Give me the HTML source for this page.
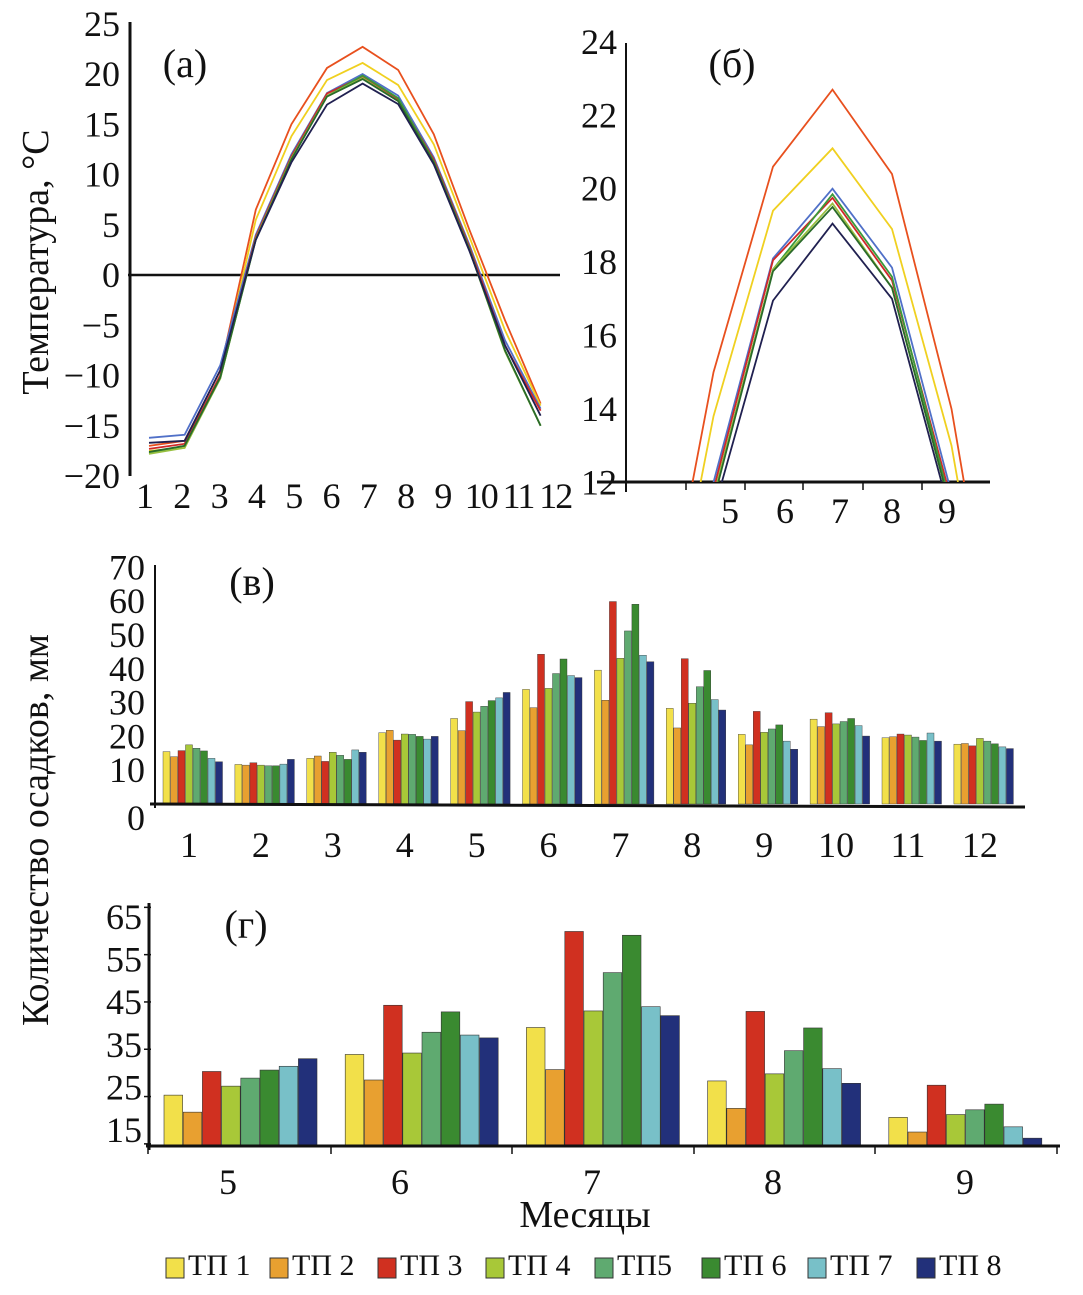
<!DOCTYPE html>
<html><head><meta charset="utf-8"><style>
html,body{margin:0;padding:0;background:#fff;overflow:hidden;width:1083px;height:1295px}
svg{display:block;font-family:"Liberation Serif",serif}
</style></head><body>
<svg id="c" width="1083" height="1295" viewBox="0 0 1083 1295"></svg>
<script>
const months = [1,2,3,4,5,6,7,8,9,10,11,12];
const lineColors = ["#e8501e","#f0d020","#5070c8","#d02828","#3a9a3a","#98c040","#2a6a2a","#202050"];
const t1 = [-17.0,-16.5,-9.5,6.5,15.0,20.6,22.7,20.4,14.0,4.5,-4.5,-12.8];
const t2 = [-17.5,-17.2,-10.0,5.5,13.8,19.4,21.1,18.9,13.0,3.8,-5.5,-13.0];
const t3 = [-16.2,-15.9,-9.0,4.0,12.0,18.1,20.0,17.85,11.7,3.0,-6.5,-13.3];
const t4 = [-17.3,-16.8,-10.0,3.8,11.8,18.05,19.75,17.5,11.5,2.8,-7.0,-13.5];
const t5 = [-17.7,-17.0,-10.3,3.6,11.6,17.8,19.85,17.6,11.3,2.6,-7.5,-15.0];
const t6 = [-17.8,-17.2,-10.3,3.6,11.6,17.8,19.6,17.3,11.2,2.5,-7.6,-15.0];
const t7 = [-17.6,-17.0,-10.2,3.5,11.5,17.75,19.5,17.3,11.2,2.5,-7.5,-15.0];
const t8 = [-16.7,-16.5,-9.5,3.5,11.2,16.95,19.05,17.0,11.0,2.4,-7.0,-14.0];
const tempSeries = [t1,t2,t3,t4,t5,t6,t7,t8];
const tempTicksA = [25,20,15,10,5,0,-5,-10,-15,-20];
const tempTicksB = [24,22,20,18,16,14,12];
const monthsB = [5,6,7,8,9];

const barColors = ["#f2e04a","#e8a030","#d03020","#a8c838","#5faa70","#3a8a30","#78c0c8","#22307a"];
const seriesNames = ["ТП 1","ТП 2","ТП 3","ТП 4","ТП5","ТП 6","ТП 7","ТП 8"];
const p1 = [15.5,11.7,13.5,21.1,25.3,33.9,39.6,28.3,20.6,25.1,19.6,17.7];
const p2 = [14.0,11.5,14.2,21.8,21.7,28.5,30.7,22.5,17.5,22.9,19.9,17.9];
const p3 = [15.8,12.2,12.6,18.9,30.3,44.3,59.9,43.0,27.4,27.0,20.7,17.2];
const p4 = [17.5,11.5,15.3,20.7,27.2,34.2,43.1,29.8,21.2,23.7,20.4,19.4];
const p5 = [16.5,11.3,14.4,20.6,28.9,38.6,51.2,34.7,22.2,24.4,19.8,18.6];
const p6 = [15.7,11.3,13.2,20.0,30.6,42.9,59.1,39.5,23.4,25.3,18.8,17.8];
const p7 = [13.5,11.8,16.0,19.2,31.4,38.0,44.0,30.9,18.6,23.2,21.0,16.9];
const p8 = [12.5,13.2,15.3,20.0,33.0,37.4,42.1,27.8,16.2,20.1,18.6,16.4];
const precSeries = [p1,p2,p3,p4,p5,p6,p7,p8];
const precTicksV = [70,60,50,40,30,20,10,0];
const precTicksG = [65,55,45,35,25,15];
const monthsG = [5,6,7,8,9];

const NS="http://www.w3.org/2000/svg";
const svg=document.getElementById('c');
function mk(tag,attrs,parent){const e=document.createElementNS(NS,tag);for(const k in attrs)e.setAttribute(k,attrs[k]);(parent||svg).appendChild(e);return e;}
function txt(s,x,y,size,anchor,parent){const e=mk('text',{x:x,y:y,'font-size':size,'text-anchor':anchor||'middle',fill:'#111'},parent);e.textContent=s;return e;}

// ---------- Panel (a)
const gA=mk('g',{});


const yA=v=>275-10.05*v, xA=m=>149+(m-1)*35.6;
mk('line',{x1:130,y1:22,x2:130,y2:476,stroke:'#111','stroke-width':3},gA);
mk('line',{x1:128,y1:yA(0),x2:560,y2:yA(0),stroke:'#111','stroke-width':2.5},gA);
tempTicksA.forEach(v=>{const t=txt(v<0?'\u2212'+(-v):String(v),120,yA(v)+12,36,'end',gA);
});
months.forEach(m=>{const t=txt(String(m),145+(m-1)*37.3,508,36,'middle',gA);
if(m>=10)t.setAttribute('letter-spacing','-2');
});
tempSeries.forEach((s,i)=>{const pl=mk('polyline',{points:s.map((v,j)=>xA(months[j])+','+yA(v)).join(' '),fill:'none',stroke:lineColors[i],'stroke-width':1.8},gA);
});
const la=txt('(a)',185,77,40,'middle',gA);

const yt=txt('Температура, °C',0,0,38,'middle',gA);
yt.setAttribute('transform','translate(48,262) rotate(-90)');


// ---------- Panel (б)
const gB=mk('g',{});


mk('clipPath',{id:'clipB'},gB);
mk('rect',{x:600,y:30,width:400,height:452},document.getElementById('clipB'));
const yB=v=>482.3-36.7*(v-12), xB=m=>773+(m-6)*59.5;
mk('line',{x1:626,y1:43,x2:626,y2:492,stroke:'#111','stroke-width':2},gB);
mk('line',{x1:597,y1:482,x2:990,y2:482,stroke:'#111','stroke-width':3},gB);
[686,745,803,863,922].forEach(x=>mk('line',{x1:x,y1:482,x2:x,y2:490,stroke:'#111','stroke-width':1.5},gB));
tempTicksB.forEach(v=>{const t=txt(String(v),617,yB(v)+12,36,'end',gB);
});
monthsB.forEach((m,i)=>{const t=txt(String(m),[730,785,840,892,947][i],523,36,'middle',gB);
});
const gBl=mk('g',{'clip-path':'url(#clipB)'},gB);
tempSeries.forEach((s,i)=>{const pl=mk('polyline',{points:s.map((v,j)=>xB(months[j])+','+yB(v)).join(' '),fill:'none',stroke:lineColors[i],'stroke-width':1.8},gBl);
});
const lb=txt('(б)',732,77,40,'middle',gB);


// ---------- Panel (в)
const gV=mk('g',{});


const yV=v=>804-3.38*v;
mk('line',{x1:155,y1:565,x2:155,y2:808,stroke:'#111','stroke-width':2},gV);
precTicksV.forEach(v=>{const t=txt(String(v),145,(v===0?818:yV(v))+12,36,'end',gV);
});
months.forEach(m=>{const gx=163+(m-1)*71.9;
precSeries.forEach((s,i)=>{const v=s[m-1];const r=mk('rect',{x:gx+i*7.5,y:yV(v),width:7,height:804-yV(v),fill:barColors[i],stroke:'#333','stroke-width':0.4},gV);
});
const t=txt(String(m),gx+26,857,36,'middle',gV);
});
mk('line',{x1:150,y1:804,x2:1025,y2:807,stroke:'#111','stroke-width':3},gV);
const lv=txt('(в)',252,595,40,'middle',gV);

const yt2=txt('Количество осадков, мм',0,0,38,'middle',gV);
yt2.setAttribute('transform','translate(48,830) rotate(-90)');


// ---------- Panel (г)
const gG=mk('g',{});


const yG=v=>931+(60-v)*4.73, base=1146;
const yGlab=v=>917+(65-v)*4.26;
mk('line',{x1:149,y1:903,x2:149,y2:1150,stroke:'#111','stroke-width':3},gG);
precTicksG.forEach(v=>{const t=txt(String(v),142,yGlab(v)+12,36,'end',gG);
mk('line',{x1:144,y1:yG(v),x2:151,y2:yG(v),stroke:'#111','stroke-width':1.5},gG);
});
monthsG.forEach((m,k)=>{const gx=164+k*181.2;
precSeries.forEach((s,i)=>{const v=s[m-1];const r=mk('rect',{x:gx+i*19.2,y:yG(v),width:18.6,height:base-yG(v),fill:barColors[i],stroke:'#333','stroke-width':0.6},gG);
});
const t=txt(String(m),[228,400,592,773,965][k],1194,36,'middle',gG);
});
mk('line',{x1:146,y1:base,x2:1060,y2:base,stroke:'#111','stroke-width':3},gG);
[148,331,512,694,875,1057].forEach(x=>mk('line',{x1:x,y1:base,x2:x,y2:base+8,stroke:'#111','stroke-width':1.5},gG));
const lg=txt('(г)',246,938,40,'middle',gG);

const xt=txt('Месяцы',585,1227,38,'middle',gG);


// ---------- Legend
const gL=mk('g',{});


const lx=[166,270,378,486,595,702,808,917];
seriesNames.forEach((n,i)=>{const g=mk('g',{},gL);

mk('rect',{x:lx[i],y:1258,width:18,height:20,fill:barColors[i],stroke:'#333','stroke-width':1},g);
txt(n,lx[i]+22,1275,30,'start',g);});
</script>
</body></html>
